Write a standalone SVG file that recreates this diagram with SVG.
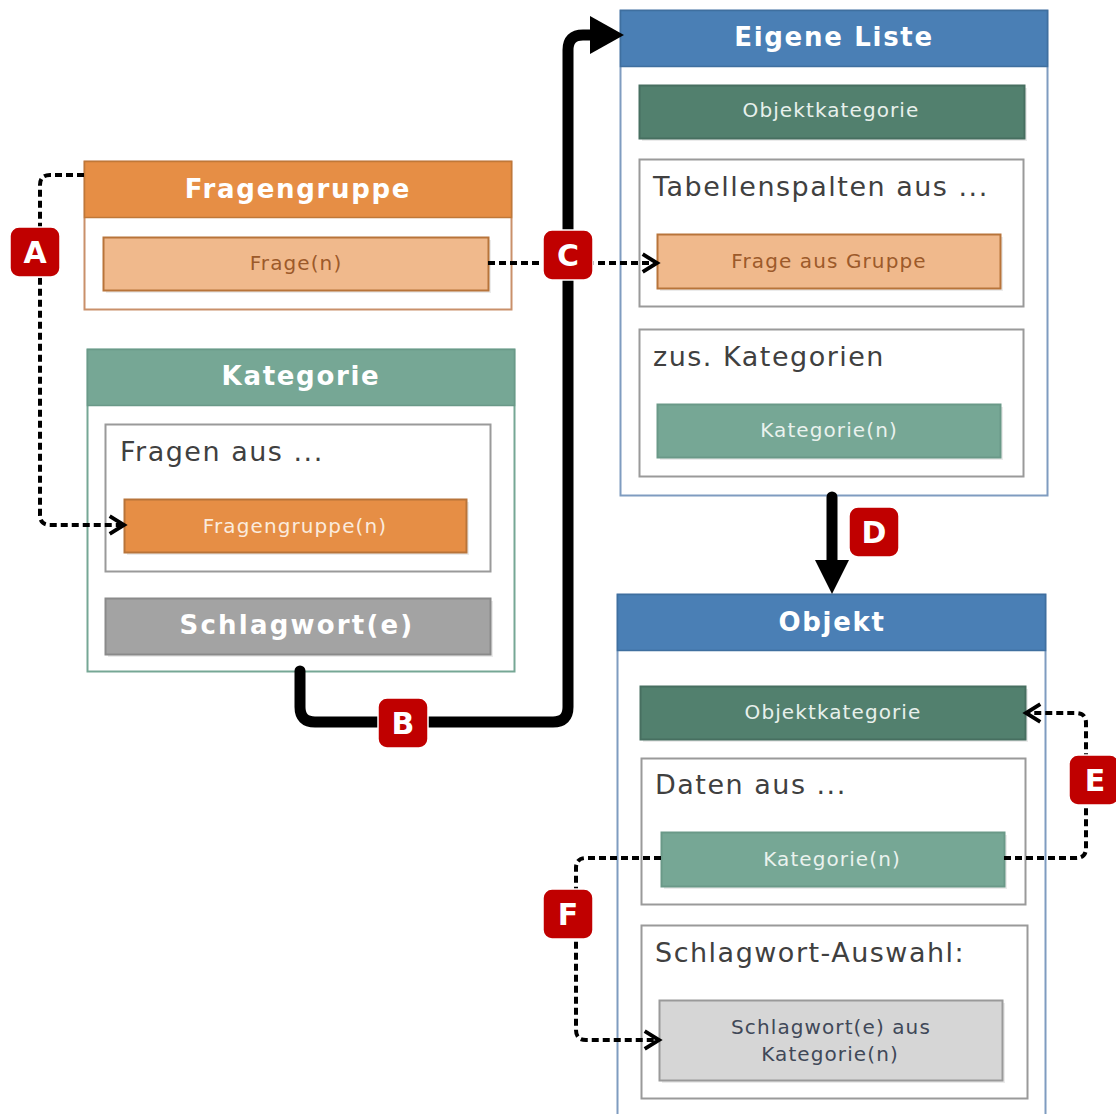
<svg xmlns="http://www.w3.org/2000/svg" width="1116" height="1114" viewBox="0 0 1116 1114">
<style>
text{font-family:"DejaVu Sans","Verdana",sans-serif}
.title{font-size:26px;font-weight:bold;fill:#fff;letter-spacing:1.7px;text-anchor:middle}
.small{font-size:20px;letter-spacing:1.1px;text-anchor:middle}
.sec{font-size:27px;fill:#404040;letter-spacing:1.5px}
.lbl{font-size:30px;font-weight:bold;fill:#fff;text-anchor:middle}
.lblbox{fill:#C00000;stroke:#fff;stroke-width:1.5}
.frame{fill:#fff}
.inner{fill:#fff;stroke:#9a9a9a;stroke-width:2}
.dot{fill:none;stroke:#000;stroke-width:4;stroke-dasharray:7 4}
.thick{fill:none;stroke:#000;stroke-width:11;stroke-linecap:round}
.sh{fill:#000;opacity:0.08}
</style>
<defs>
<marker id="chev" markerUnits="userSpaceOnUse" markerWidth="22" markerHeight="24" refX="15" refY="10" orient="auto" viewBox="0 0 20 20">
<path d="M2,2 L15,10 L2,18" fill="none" stroke="#000" stroke-width="3.5"/>
</marker>
</defs>

<g id="fragengruppe">
<rect x="84.5" y="161.5" width="427" height="148" class="frame" stroke="#C9906A" stroke-width="2"/>
<rect x="84.5" y="161.5" width="427" height="56" fill="#E68E45" stroke="#C07838" stroke-width="1.5"/>
<text x="298" y="198" class="title">Fragengruppe</text>
<rect x="106" y="240" width="385" height="53" class="sh"/>
<rect x="103.5" y="237.5" width="385" height="53" fill="#F0B98C" stroke="#B8743A" stroke-width="2"/>
<text x="296" y="270" class="small" fill="#9C5A2A">Frage(n)</text>
</g>

<g id="kategorie">
<rect x="87.5" y="349.5" width="427" height="322" class="frame" stroke="#76A795" stroke-width="2"/>
<rect x="87.5" y="349.5" width="427" height="56" fill="#76A795" stroke="#6A9988" stroke-width="1.5"/>
<text x="301" y="385" class="title">Kategorie</text>
<rect x="105.5" y="424.5" width="385" height="147" class="inner"/>
<text x="120" y="461" class="sec">Fragen aus ...</text>
<rect x="127" y="502" width="342" height="53" class="sh"/>
<rect x="124.5" y="499.5" width="342" height="53" fill="#E68E45" stroke="#B8743A" stroke-width="2"/>
<text x="295" y="533" class="small" fill="#FBEBDD">Fragengruppe(n)</text>
<rect x="108" y="601" width="385" height="56" class="sh"/>
<rect x="105.5" y="598.5" width="385" height="56" fill="#A3A3A3" stroke="#8a8a8a" stroke-width="2"/>
<text x="297" y="634" class="title" style="letter-spacing:2.2px">Schlagwort(e)</text>
</g>

<g id="eigene-liste">
<rect x="620.5" y="10.5" width="427" height="485" class="frame" stroke="#7F9CC0" stroke-width="2"/>
<rect x="620.5" y="10.5" width="427" height="56" fill="#4A7FB5" stroke="#3F6F9F" stroke-width="1.5"/>
<text x="834" y="46" class="title">Eigene Liste</text>
<rect x="642" y="88" width="385" height="53" class="sh"/>
<rect x="639.5" y="85.5" width="385" height="53" fill="#52806E" stroke="#476F60" stroke-width="2"/>
<text x="831" y="117" class="small" fill="#E8F0EC">Objektkategorie</text>
<rect x="639.5" y="159.5" width="384" height="147" class="inner"/>
<text x="653" y="196" class="sec">Tabellenspalten aus ...</text>
<rect x="660" y="237" width="343" height="54" class="sh"/>
<rect x="657.5" y="234.5" width="343" height="54" fill="#F0B98C" stroke="#B8743A" stroke-width="2"/>
<text x="829" y="268" class="small" fill="#9C5A2A">Frage aus Gruppe</text>
<rect x="639.5" y="329.5" width="384" height="147" class="inner"/>
<text x="653" y="366" class="sec">zus. Kategorien</text>
<rect x="660" y="407" width="343" height="53" class="sh"/>
<rect x="657.5" y="404.5" width="343" height="53" fill="#76A795" stroke="#6A9988" stroke-width="2"/>
<text x="829" y="437" class="small" fill="#EAF2EE">Kategorie(n)</text>
</g>

<g id="objekt">
<rect x="617.5" y="594.5" width="428" height="530" class="frame" stroke="#7F9CC0" stroke-width="2"/>
<rect x="617.5" y="594.5" width="428" height="56" fill="#4A7FB5" stroke="#3F6F9F" stroke-width="1.5"/>
<text x="832" y="631" class="title">Objekt</text>
<rect x="643" y="689" width="385" height="53" class="sh"/>
<rect x="640.5" y="686.5" width="385" height="53" fill="#52806E" stroke="#476F60" stroke-width="2"/>
<text x="833" y="719" class="small" fill="#E8F0EC">Objektkategorie</text>
<rect x="641.5" y="758.5" width="384" height="146" class="inner"/>
<text x="655" y="794" class="sec">Daten aus ...</text>
<rect x="664" y="835" width="343" height="54" class="sh"/>
<rect x="661.5" y="832.5" width="343" height="54" fill="#76A795" stroke="#6A9988" stroke-width="2"/>
<text x="832" y="866" class="small" fill="#EAF2EE">Kategorie(n)</text>
<rect x="641.5" y="925.5" width="386" height="173" class="inner"/>
<text x="655" y="962" class="sec">Schlagwort-Auswahl:</text>
<rect x="662" y="1003" width="343" height="80" class="sh"/>
<rect x="659.5" y="1000.5" width="343" height="80" fill="#D6D6D6" stroke="#9a9a9a" stroke-width="2"/>
<text x="831" y="1034" class="small" fill="#404858">Schlagwort(e) aus</text>
<text x="830" y="1061" class="small" fill="#404858">Kategorie(n)</text>
</g>

<g id="connectors">
<path class="dot" d="M84,175 H50 Q40,175 40,185 V515 Q40,525 50,525 H124" marker-end="url(#chev)"/>
<path class="dot" d="M488,263 H657" marker-end="url(#chev)"/>
<path class="dot" d="M1004,858 H1076 Q1086,858 1086,848 V723 Q1086,713 1076,713 H1026" marker-end="url(#chev)"/>
<path class="dot" d="M661,858 H586 Q576,858 576,868 V1030 Q576,1040 586,1040 H659" marker-end="url(#chev)"/>
<path class="thick" d="M300,671 V707 Q300,722 315,722 H553 Q568,722 568,707 V50 Q568,35 583,35 H596"/>
<polygon points="590,16 624,35 590,54" fill="#000"/>
<path class="thick" d="M832,497 V566"/>
<polygon points="815,560 849,560 832,594" fill="#000"/>
</g>

<g id="labels">
<rect x="10" y="227" width="50" height="50" rx="9" class="lblbox"/>
<text x="35" y="263" class="lbl">A</text>
<rect x="378" y="698" width="50" height="50" rx="9" class="lblbox"/>
<text x="403" y="734" class="lbl">B</text>
<rect x="543" y="230" width="50" height="50" rx="9" class="lblbox"/>
<text x="568" y="266" class="lbl">C</text>
<rect x="849" y="507" width="50" height="50" rx="9" class="lblbox"/>
<text x="874" y="543" class="lbl">D</text>
<rect x="1069" y="755" width="50" height="50" rx="9" class="lblbox"/>
<text x="1095" y="791" class="lbl">E</text>
<rect x="543" y="889" width="50" height="50" rx="9" class="lblbox"/>
<text x="568" y="925" class="lbl">F</text>
</g>
</svg>
